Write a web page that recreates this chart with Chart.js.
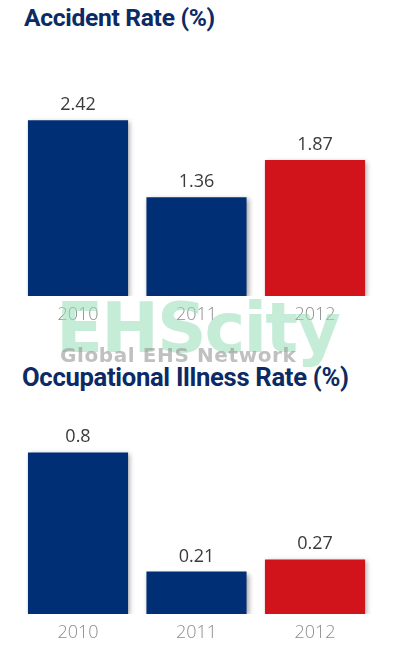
<!DOCTYPE html>
<html>
<head>
<meta charset="utf-8">
<script src="https://cdn.jsdelivr.net/npm/chart.js@4.4.1/dist/chart.umd.min.js"></script>
<style>
  body { margin: 0; background: #fff; width: 394px; height: 659px; position: relative; overflow: hidden; }
  .title { position: absolute; margin: 0; font-family: Roboto, sans-serif; font-weight: 700;
           color: #0c2a64; letter-spacing: -0.3px; white-space: nowrap; }
  canvas { position: absolute; left: 0; }
  .wm { position: absolute; pointer-events: none; white-space: nowrap; font-family: "DejaVu Sans", sans-serif; font-weight: 700; }
</style>
</head>
<body>
<h2 class="title" id="t1" style="left:24px; top:3px; font-size:24.6px;">Accident Rate (%)</h2>
<canvas id="js--chart--1" width="394" height="300" style="top:40px"></canvas>
<h2 class="title" id="t2" style="left:22px; top:362px; font-size:25.6px;">Occupational Illness Rate (%)</h2>
<canvas id="js--chart--2" width="394" height="259" style="top:400px"></canvas>
<div class="wm" style="left:56px; top:288px; font-size:69px; color:rgba(150,220,180,0.55); letter-spacing:-2px;">EHScity</div>
<div class="wm" style="left:60px; top:343px; font-size:20px; color:rgba(150,150,150,0.6); letter-spacing:0.6px;">Global EHS Network</div>
<script>
const years = ["2010", "2011", "2012"];
const accidentRate = [2.42, 1.36, 1.87];
const illnessRate = [0.8, 0.21, 0.27];
const barColors = ['#012f76', '#012f76', '#d1131c'];

// draw the number above each bar
const valueLabels = {
  id: 'valueLabels',
  afterDatasetsDraw(chart) {
    const ctx = chart.ctx;
    const meta = chart.getDatasetMeta(0);
    ctx.save();
    ctx.font = '18px "Open Sans", sans-serif';
    ctx.fillStyle = '#3b3b3b';
    ctx.textAlign = 'center';
    ctx.textBaseline = 'alphabetic';
    meta.data.forEach((bar, i) => {
      ctx.fillText(String(chart.data.datasets[0].data[i]), bar.x, bar.y - 10);
    });
    ctx.restore();
  }
};

// soft shadow under the bars
const barShadow = {
  id: 'barShadow',
  beforeDatasetsDraw(chart) {
    const ctx = chart.ctx;
    ctx.save();
    ctx.shadowColor = 'rgba(0,0,0,0.35)';
    ctx.shadowBlur = 5;
    ctx.shadowOffsetX = 2;
    ctx.shadowOffsetY = 2;
  },
  afterDatasetsDraw(chart) {
    chart.ctx.restore();
  }
};

function makeChart(id, values, yMax, padTop, padBottom) {
  return new Chart(document.getElementById(id), {
    type: 'bar',
    data: {
      labels: years,
      datasets: [{
        data: values,
        backgroundColor: barColors,
        borderWidth: 0,
        categoryPercentage: 1,
        barPercentage: 0.845,
      }]
    },
    options: {
      responsive: false,
      animation: false,
      layout: { padding: { left: 18.75, right: 19.75, top: padTop, bottom: padBottom } },
      plugins: { legend: { display: false }, tooltip: { enabled: false } },
      scales: {
        y: { display: false, min: 0, max: yMax },
        x: {
          grid: { display: false, drawTicks: false },
          border: { display: false },
          ticks: { color: '#8c8c8c', padding: 8, font: { family: '"Open Sans", sans-serif', size: 18, weight: 300 } }
        }
      }
    },
    plugins: [barShadow, valueLabels]
  });
}

makeChart("js--chart--1", accidentRate, 3, 38, 6.4);
makeChart("js--chart--2", illnessRate, 1, 12, 7.4);
</script>
</body>
</html>
